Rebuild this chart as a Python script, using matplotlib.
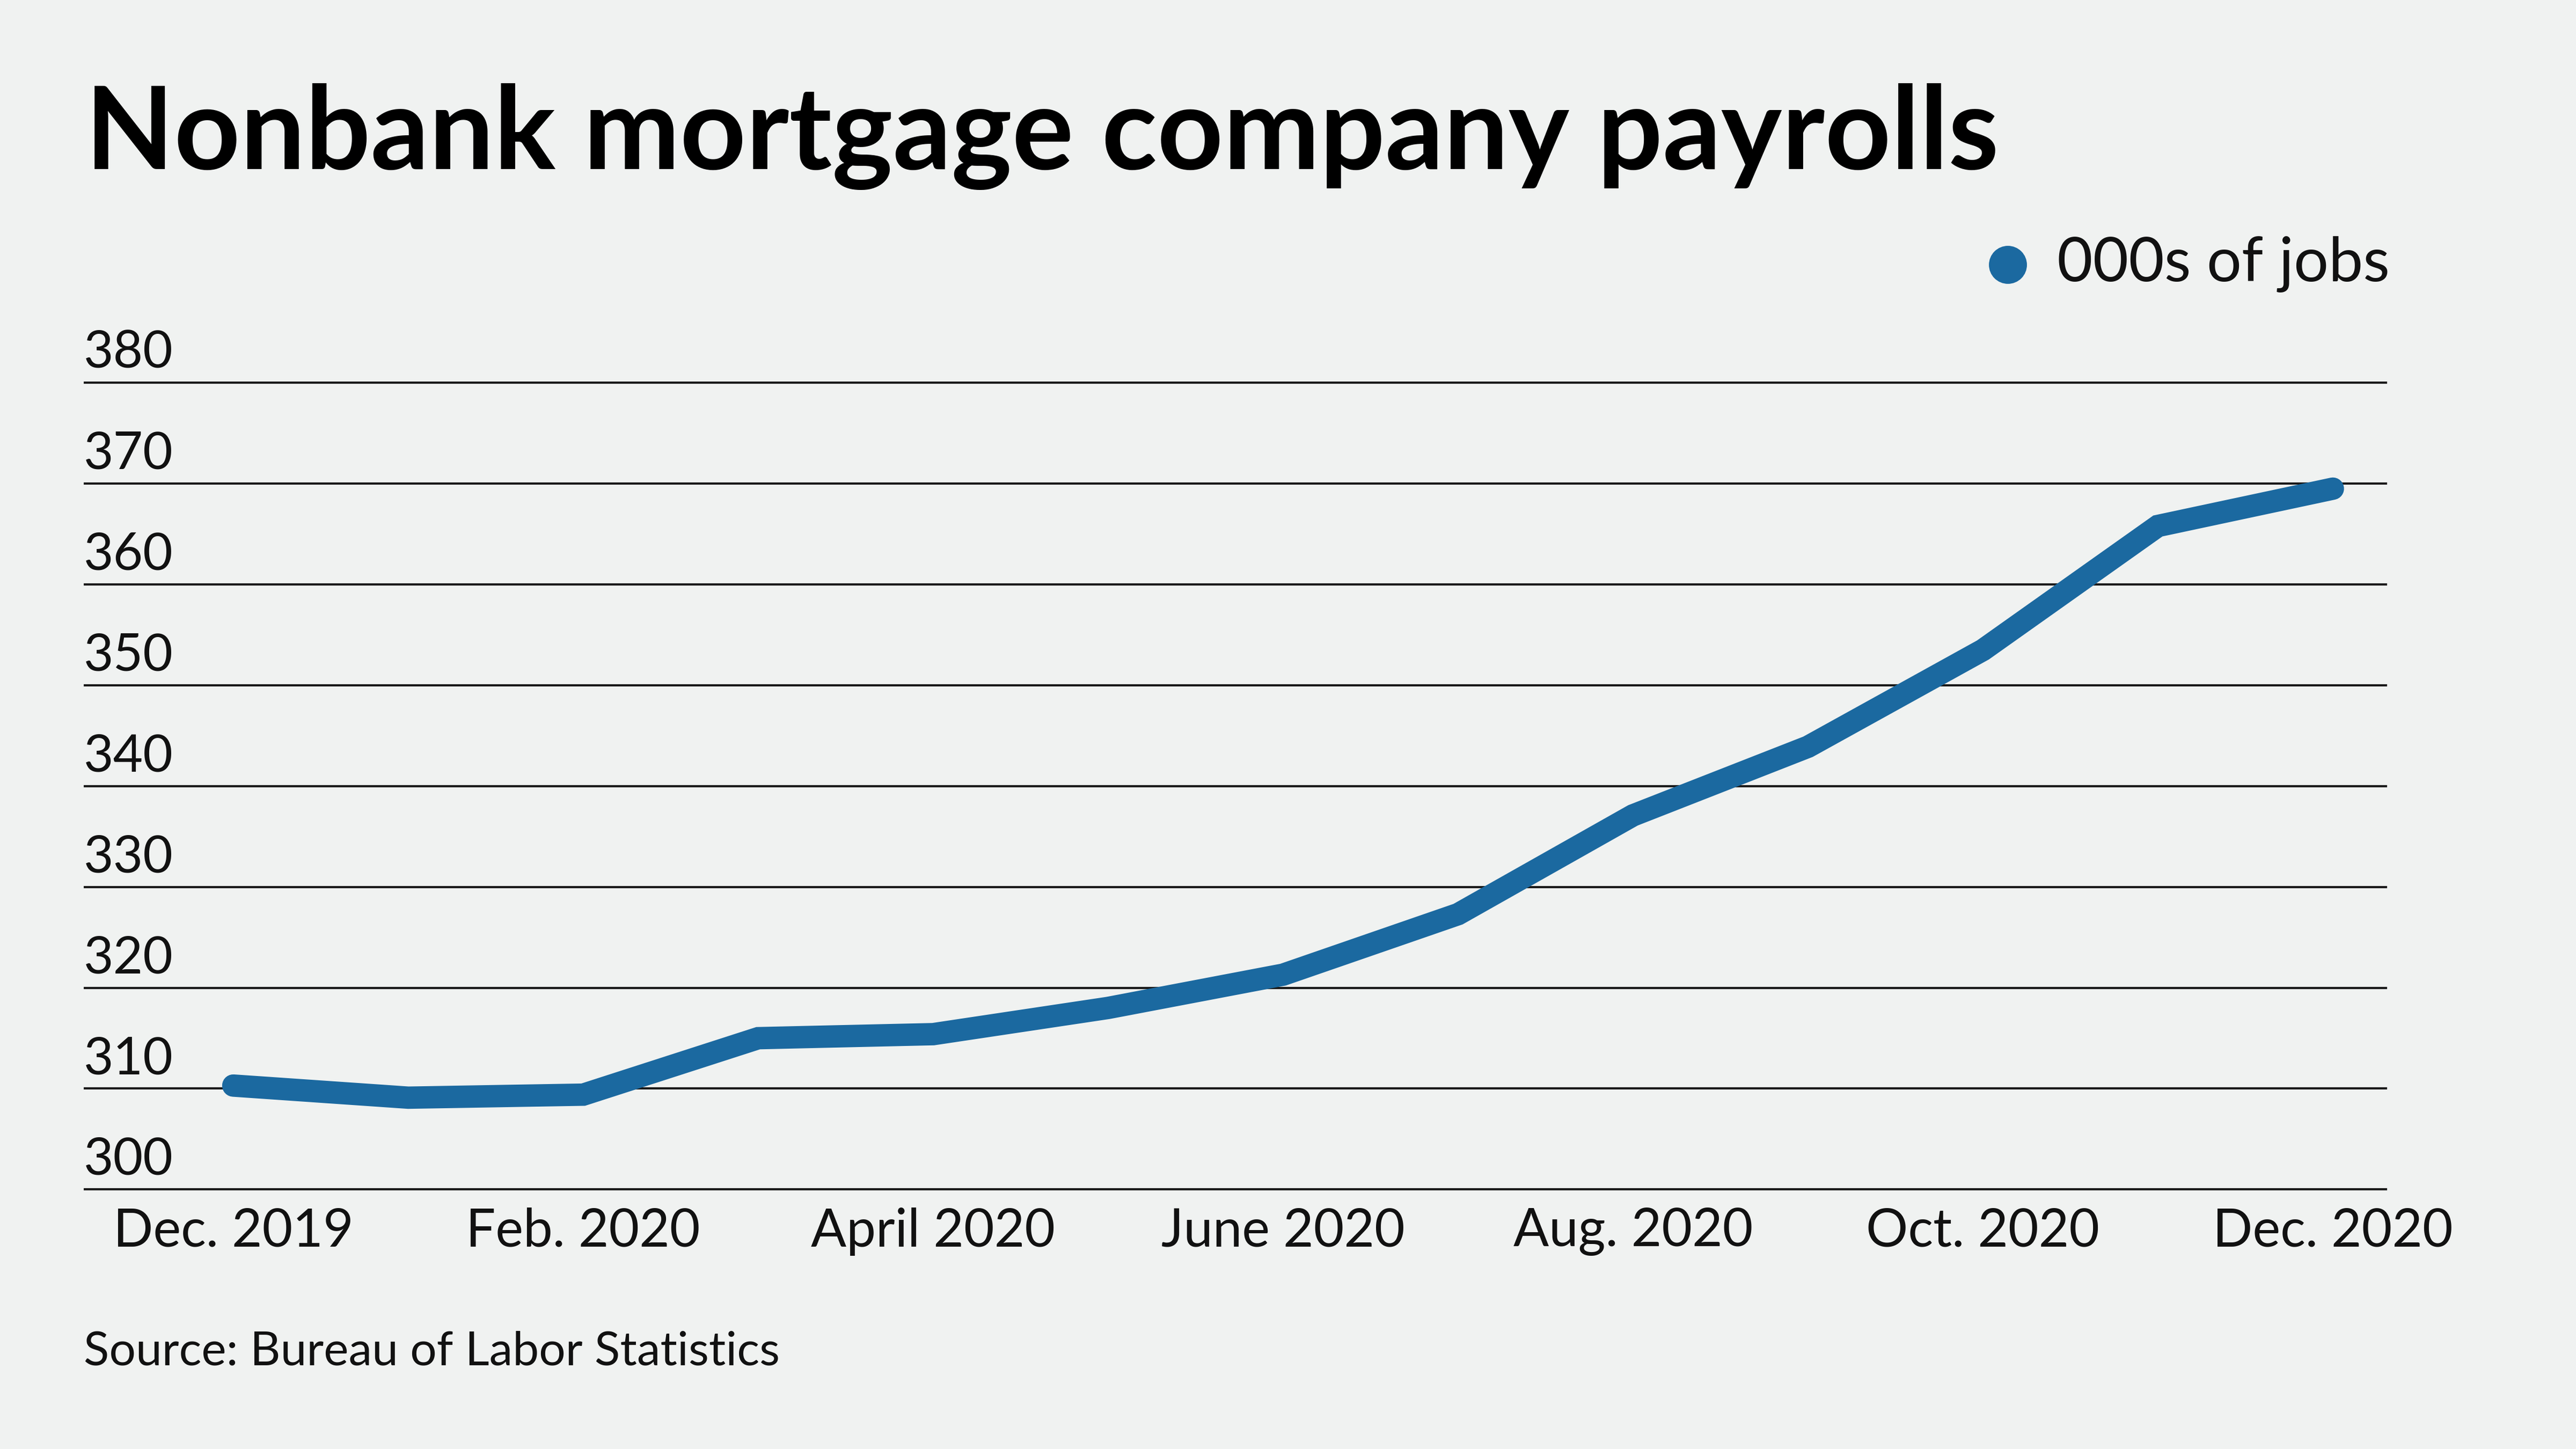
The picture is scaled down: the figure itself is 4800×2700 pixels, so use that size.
import matplotlib
matplotlib.use('Agg')
import matplotlib.pyplot as plt
from matplotlib.lines import Line2D
import matplotlib.transforms as mtransforms

# 数据（千个岗位）
months = ['Dec. 2019', 'Jan. 2020', 'Feb. 2020', 'March 2020', 'April 2020', 'May 2020',
          'June 2020', 'July 2020', 'Aug. 2020', 'Sept. 2020', 'Oct. 2020', 'Nov. 2020', 'Dec. 2020']
jobs = [310.3, 309.1, 309.4, 315.0, 315.4, 318.0, 321.3, 327.3, 337.1, 343.9, 353.5, 365.8, 369.5]
y_ticks = [300, 310, 320, 330, 340, 350, 360, 370, 380]
x_label_idx = [0, 2, 4, 6, 8, 10, 12]

BG = '#f0f2f1'
BLUE = '#1b69a0'
W, H = 1568, 882  # 参考图显示尺寸

plt.rcParams['font.family'] = ['Lato', 'DejaVu Sans']

fig = plt.figure(figsize=(16, 9), dpi=300, facecolor=BG)
left, right = 51 / W, 1453 / W
bottom, top = 1 - 724 / H, 1 - 233 / H
ax = fig.add_axes([left, bottom, right - left, top - bottom])
ax.set_facecolor(BG)

ax.set_ylim(y_ticks[0], y_ticks[-1])
step = (1420 - 142) / 12
ax.set_xlim(-(142 - 51) / step, 12 + (1453 - 1420) / step)

# 网格线
ax.hlines(y_ticks, *ax.get_xlim(), colors='#1a1a1a', linewidth=1.0, clip_on=False, zorder=1)

# 折线
ax.plot(range(len(jobs)), jobs, color=BLUE, linewidth=10, solid_capstyle='round',
        solid_joinstyle='miter', zorder=3, clip_on=False)

for s in ax.spines.values():
    s.set_visible(False)
ax.set_yticks([])
ax.set_xticks(x_label_idx)
ax.set_xticklabels([months[i] for i in x_label_idx], fontsize=23.5, color='#111111')
ax.tick_params(axis='x', length=0, pad=8)

# y 轴标签在网格线上方
trans = mtransforms.blended_transform_factory(ax.transAxes, ax.transData)
for v in y_ticks:
    ax.annotate(str(v), xy=(0, v), xycoords=trans, xytext=(0, 2.5), textcoords='offset points',
                ha='left', va='bottom', fontsize=23, color='#111111')

# 标题
fig.text(52 / W, 1 - 103 / H, 'Nonbank mortgage company payrolls', fontsize=51.5,
         fontweight='bold', color='#000000', ha='left', va='baseline')

# 图例
fig.add_artist(Line2D([1222 / W], [1 - 161 / H], marker='o', markersize=16,
                      color=BLUE, linestyle='none', transform=fig.transFigure))
fig.text(1252 / W, 1 - 161 / H, '000s of jobs', fontsize=27.5, color='#111111',
         ha='left', va='center')

# 来源
fig.text(51 / W, 1 - 823 / H, 'Source: Bureau of Labor Statistics', fontsize=21,
         color='#111111', ha='left', va='center')

fig.savefig('out.png', dpi=300, facecolor=BG)
plt.close(fig)
